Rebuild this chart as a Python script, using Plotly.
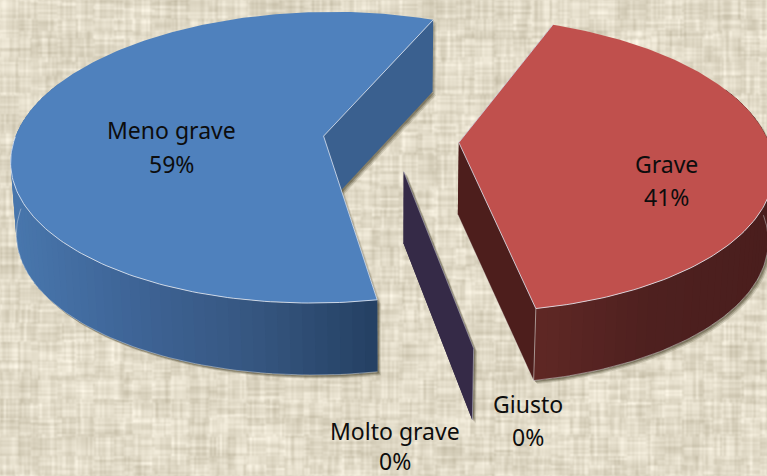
import base64, struct, zlib
import numpy as np
import plotly.graph_objects as go

# ---------- data ----------
categories = ["Grave", "Giusto", "Molto grave", "Meno grave"]
shares = [41, 0, 0, 59]
first_slice_angle = 22
explosion = 0.22

# ---------- view of the tilted disc ----------
X0, Y0, SX, SY, PERSP = 391.0, 139.3, 309.0, 143.4, 0.147
DEPTH, SHRINK = 72.0, 0.015


def project(u, v, z=0.0):
    u, v = np.asarray(u, float), np.asarray(v, float)
    w = 1.0 / (1.0 + PERSP * v)
    return X0 + SX * u * w * (1 - SHRINK * z), Y0 - SY * v * w + DEPTH * z


def unit(deg):
    r = np.radians(deg)
    return np.sin(r), np.cos(r)


def slice_geometry(start, sweep):
    mx, my = unit(start + sweep / 2)
    return mx * explosion, my * explosion


def rim(start, sweep, cu, cv, step=1.0):
    n = max(int(abs(sweep) / step), 1)
    a = np.linspace(start, start + sweep, n + 1)
    s, c = unit(a)
    return a, cu + s, cv + c


def mix(stops, x):
    xs = [s[0] for s in stops]
    return "rgb(%d,%d,%d)" % tuple(
        round(np.interp(x, xs, [s[1][i] for s in stops])) for i in range(3))


def poly(fig, xs, ys, fill, width=0.0, line=None):
    fig.add_trace(go.Scatter(
        x=list(xs), y=list(ys), mode="lines", fill="toself", fillcolor=fill,
        line=dict(color=line or fill, width=width),
        hoverinfo="skip", showlegend=False))


def edge(fig, xs, ys, color="rgba(220,228,240,0.8)", width=1.0):
    fig.add_trace(go.Scatter(x=list(xs), y=list(ys), mode="lines",
                             line=dict(color=color, width=width),
                             hoverinfo="skip", showlegend=False))


# ---------- woven linen backdrop ----------
def woven(w=767, h=476):
    def hash_(a):
        return np.modf(np.abs(np.sin(a * 12.9898 + 4.1) * 43758.5453))[0]

    xx, yy = np.meshgrid(np.arange(w), np.arange(h))
    img = np.zeros((h, w))
    for pitch, length, amp in ((2, 19, 11), (3, 31, 11), (5, 47, 7)):
        ry = (yy // pitch).astype(float)
        cx = (xx // pitch).astype(float)
        img += amp * (hash_(ry * 3.1 + (xx // length) * 0.77) - 0.5)
        img += amp * (hash_(cx * 5.7 + (yy // length) * 1.31) - 0.5)
    img += 5 * (hash_((xx // 41) * 2.3 + (yy // 23) * 9.1) - 0.5)
    for axis in (0, 1):
        img = (np.roll(img, 1, axis) + 2 * img + np.roll(img, -1, axis)) / 4
    base = np.array([226.0, 219.0, 200.0])
    rgb = np.clip(base[None, None, :] + img[..., None] * np.array([1.3, 1.35, 1.5]), 0, 255).astype(np.uint8)
    raw = b"".join(b"\x00" + rgb[r].tobytes() for r in range(h))

    def chunk(tag, body):
        return struct.pack(">I", len(body)) + tag + body + struct.pack(">I", zlib.crc32(tag + body))

    png = (b"\x89PNG\r\n\x1a\n"
           + chunk(b"IHDR", struct.pack(">IIBBBBB", w, h, 8, 2, 0, 0, 0))
           + chunk(b"IDAT", zlib.compress(raw, 9)) + chunk(b"IEND", b""))
    return "data:image/png;base64," + base64.b64encode(png).decode()


fig = go.Figure()

# ---------- slices from the shares ----------
total = sum(shares)
angle = first_slice_angle
slices = {}
for name, share in zip(categories, shares):
    sweep = 360.0 * share / total
    slices[name] = (angle, sweep, *slice_geometry(angle, sweep))
    angle += sweep

STYLE = {
    "Grave": dict(top="#c0504d", cut="#4d1e1c",
                  wall=[(530, (96, 40, 37)), (650, (78, 32, 31)), (770, (74, 30, 29))]),
    "Meno grave": dict(top="#4f81bd", cut="#3a608f",
                       wall=[(15, (72, 118, 172)), (130, (62, 100, 150)), (250, (54, 86, 128)), (375, (36, 64, 98))]),
}


def shadow(fig, px, py):
    for dx, dy, alpha in ((3.5, 3.5, 0.08), (2.5, 2.5, 0.12), (1.5, 1.5, 0.16)):
        poly(fig, px + dx, py + dy, "rgba(50,45,20,%.2f)" % alpha)


# zero-size slices are a single cut face
for name in ("Giusto", "Molto grave"):
    start, sweep, _, _ = slices[name]
    du, dv = unit(start)
    u = np.array([du * explosion, du * (explosion + 1), du * (explosion + 1), du * explosion])
    v = np.array([dv * explosion, dv * (explosion + 1), dv * (explosion + 1), dv * explosion])
    z = np.array([0, 0, 1, 1])
    x, y = project(u, v, z)
    shadow(fig, x, y)
    poly(fig, x, y, "#352a47")
edge(fig, x[[0, 1, 2]], y[[0, 1, 2]], "rgba(225,225,235,0.6)", 0.8)

for name in ("Grave", "Meno grave"):
    start, sweep, cu, cv = slices[name]
    st = STYLE[name]
    a, ru, rv = rim(start, sweep, cu, cv)
    tx, ty = project(np.r_[cu, ru], np.r_[cv, rv])
    bx, by = project(np.r_[cu, ru], np.r_[cv, rv], 1)

    # soft drop shadow under the solid
    shadow(fig, bx, by)
    for end in (1, len(a)):
        shadow(fig, np.array([tx[0], tx[end], bx[end], bx[0]]), np.array([ty[0], ty[end], by[end], by[0]]))
    front = np.where(rv - cv < 0.4)[0]
    wx0, wy0 = project(ru[front], rv[front])
    wx1, wy1 = project(ru[front], rv[front], 1)
    shadow(fig, np.r_[wx0, wx1[::-1]], np.r_[wy0, wy1[::-1]])

    # the two flat cut faces (the top face hides what is not visible)
    for end in (1, len(a)):
        poly(fig, [tx[0], tx[end], bx[end], bx[0]], [ty[0], ty[end], by[end], by[0]], st["cut"])

    # curved outer wall as shaded strips
    for i in range(0, len(front) - 2, 2):
        ch = front[i:i + 4]
        qx, qy = project(ru[ch], rv[ch])
        wx, wy = project(ru[ch], rv[ch], 1)
        poly(fig, np.r_[qx, wx[::-1]], np.r_[qy, wy[::-1]], mix(st["wall"], qx.mean()))
    low = rv - cv < 0.0
    ex, ey = project(ru[low], rv[low], 1)
    edge(fig, ex, ey, "rgba(225,230,235,0.55)", 0.8)
    if name == "Grave":
        edge(fig, [tx[-1], bx[-1]], [ty[-1], by[-1]], "rgba(225,225,225,0.6)", 0.9)
        edge(fig, [bx[0], bx[-1]], [by[0], by[-1]], "rgba(225,225,225,0.35)", 0.8)

    # top face and its light bevel
    poly(fig, tx, ty, st["top"])
    edge(fig, tx[[1, 0, -1]], ty[[1, 0, -1]])
    lx, ly = project(ru[low], rv[low])
    edge(fig, lx, ly, "rgba(232,238,248,0.8)", 1.0)

# ---------- labels ----------
label_anchor = {"Grave": (666, 164, 197), "Meno grave": (171, 130, 164),
                "Giusto": (528, 404, 437), "Molto grave": (395, 431, 461)}
annotations = []
for name, share in zip(categories, shares):
    x, y1, y2 = label_anchor[name]
    for text, yy in ((name, y1), ("%d%%" % share, y2)):
        annotations.append(dict(x=x, y=yy, text=text, showarrow=False, xanchor="center",
                                yanchor="middle", font=dict(family="Noto Sans", size=23, color="#0d0d0d")))

fig.update_layout(
    width=767, height=476, margin=dict(l=0, r=0, t=0, b=0), showlegend=False,
    paper_bgcolor="#e0d8c5", plot_bgcolor="rgba(0,0,0,0)",
    xaxis=dict(range=[0, 767], visible=False, fixedrange=True),
    yaxis=dict(range=[476, 0], visible=False, fixedrange=True),
    annotations=annotations,
    images=[dict(source=woven(), xref="paper", yref="paper", x=0, y=1, sizex=1, sizey=1,
                 sizing="stretch", xanchor="left", yanchor="top", layer="below")],
)
fig.write_html("out.html", config=dict(displayModeBar=False),
               post_script="document.body.style.margin='0';document.body.style.overflow='hidden';")
